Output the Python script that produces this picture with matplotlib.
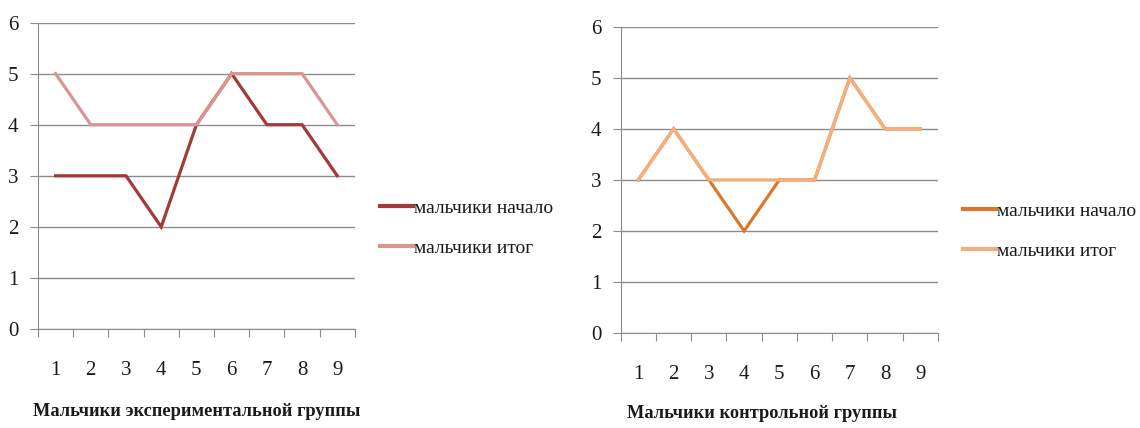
import matplotlib
matplotlib.use("Agg")
import matplotlib.pyplot as plt
import numpy as np

plt.rcParams['font.family'] = ['Liberation Serif', 'DejaVu Serif']

categories = [1, 2, 3, 4, 5, 6, 7, 8, 9]
exp_start = [3, 3, 3, 2, 4, 5, 4, 4, 3]
exp_end = [5, 4, 4, 4, 4, 5, 5, 5, 4]
ctrl_start = [3, 4, 3, 2, 3, 3, 5, 4, 4]
ctrl_end = [3, 4, 3, 3, 3, 3, 5, 4, 4]
series_labels = ['мальчики начало', 'мальчики итог']
titles = ['Мальчики экспериментальной группы', 'Мальчики контрольной группы']
yticks = [0, 1, 2, 3, 4, 5, 6]

W, H = 1140, 428
fig = plt.figure(figsize=(11.4, 4.28), dpi=100)

def setup(ax, start, end, c1, c2, title, title_xy, leg_xy):
    x = np.arange(len(categories))
    l1, = ax.plot(x, start, color=c1, lw=2.3, solid_joinstyle='miter', zorder=3)
    l2, = ax.plot(x, end, color=c2, lw=2.3, solid_joinstyle='miter', zorder=4)
    ax.set_xlim(-0.5, len(categories) - 0.5)
    ax.set_ylim(0, 6)
    ax.set_yticks(yticks)
    ax.set_yticklabels([str(v) for v in yticks], fontsize=15)
    ax.yaxis.grid(True, color='#8c8c8c', lw=1.0)
    ax.set_axisbelow(True)
    for s in ['top', 'right']:
        ax.spines[s].set_visible(False)
    ax.spines['left'].set_color('#8c8c8c')
    ax.spines['bottom'].set_color('#8c8c8c')
    ax.tick_params(axis='y', length=6, color='#8c8c8c', pad=8, labelcolor='#1a1a1a')
    ax.set_xticks(np.arange(-0.5, len(categories), 1.0))
    ax.set_xticklabels([])
    ax.tick_params(axis='x', which='major', length=6, color='#8c8c8c')
    ax.set_xticks(x, minor=True)
    ax.set_xticklabels([str(c) for c in categories], minor=True, fontsize=15)
    ax.tick_params(axis='x', which='minor', length=0, pad=23, labelcolor='#1a1a1a')
    fig.text(title_xy[0] / W, 1 - title_xy[1] / H, title, fontsize=13.2,
             fontweight='bold', ha='center', va='center', color='#1a1a1a')
    leg = fig.legend([l1, l2], series_labels, loc='center left', bbox_to_anchor=leg_xy,
                     frameon=False, fontsize=14, handlelength=1.7, handletextpad=0.05,
                     labelspacing=1.15, borderpad=0, borderaxespad=0)
    for h in leg.get_lines():
        h.set_linewidth(3)
    for t in leg.get_texts():
        t.set_color('#1a1a1a')

ax1 = fig.add_axes([0.0333, 0.2313, 0.278, 0.716])
setup(ax1, exp_start, exp_end, '#a33a3a', '#d99594', titles[0], (197, 412),
      (380 / W, 1 - 228 / H))

ax2 = fig.add_axes([0.5445, 0.222, 0.2783, 0.7156])
setup(ax2, ctrl_start, ctrl_end, '#d9782d', '#f6ae7c', titles[1], (762, 414),
      (963 / W, 1 - 231 / H))

fig.savefig('out.png', dpi=100)
